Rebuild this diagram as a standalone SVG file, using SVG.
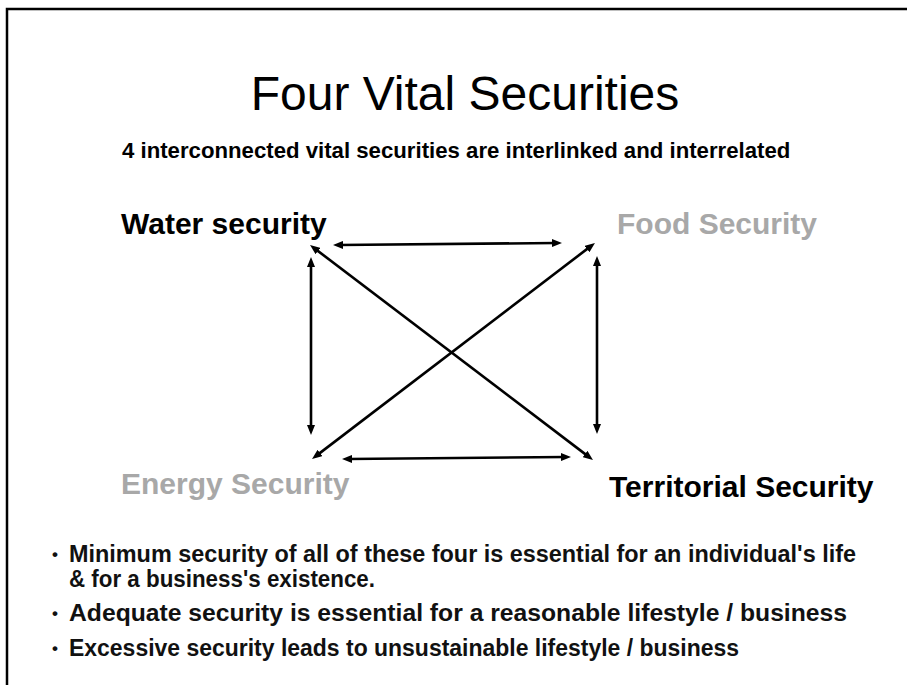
<svg xmlns="http://www.w3.org/2000/svg" width="907" height="685" viewBox="0 0 907 685">
<style>
text{font-family:"Liberation Sans",Arial,sans-serif;}
.b{font-weight:bold;}
.lbl{font-size:30px;font-weight:bold;}
.blk{fill:#000;}
.gry{fill:#a8a8a8;}
.bul{font-size:23px;font-weight:bold;fill:#111;}
.dot{font-size:17px;font-weight:bold;fill:#111;}
.conn{stroke:#000;stroke-width:2.6;fill:none;marker-start:url(#ah);marker-end:url(#ah);}
</style>
<defs>
<marker id="ah" viewBox="0 0 10 8" refX="4" refY="4" markerWidth="10" markerHeight="8" markerUnits="userSpaceOnUse" orient="auto-start-reverse">
<path d="M0,0 L10,4 L0,8 z" fill="#000"/>
</marker>
</defs>
<rect width="907" height="685" fill="#fff"/>
<path d="M7,685 V9 H907" stroke="#000" stroke-width="2.5" fill="none"/>
<g id="title">
<text x="465" y="110" font-size="48" text-anchor="middle">Four Vital Securities</text>
<text x="122" y="158" font-size="22.2" class="b">4 interconnected vital securities are interlinked and interrelated</text>
</g>
<g id="water"><text x="121" y="234" class="lbl blk">Water security</text></g>
<g id="food"><text x="617" y="234" class="lbl gry">Food Security</text></g>
<g id="energy"><text x="121" y="494" class="lbl gry">Energy Security</text></g>
<g id="territorial"><text x="609" y="497" class="lbl blk">Territorial Security</text></g>
<g id="connectors">
<path class="conn" d="M339,245 L556,243"/>
<path class="conn" d="M311,263 L311,429"/>
<path class="conn" d="M597,262 L597,428"/>
<path class="conn" d="M314.8,248.6 L588.2,456.4"/>
<path class="conn" d="M590.2,246.6 L316.8,455.4"/>
<path class="conn" d="M348,459 L565,457"/>
</g>
<g id="notes">
<text x="52" y="560" class="dot">•</text>
<text x="69" y="562" class="bul" textLength="787" lengthAdjust="spacingAndGlyphs">Minimum security of all of these four is essential for an individual's life</text>
<text x="69" y="587" class="bul" textLength="306" lengthAdjust="spacingAndGlyphs">&amp; for a business's existence.</text>
<text x="52" y="619" class="dot">•</text>
<text x="69" y="621" class="bul" textLength="778" lengthAdjust="spacingAndGlyphs">Adequate security is essential for a reasonable lifestyle / business</text>
<text x="52" y="654" class="dot">•</text>
<text x="69" y="656" class="bul" textLength="670" lengthAdjust="spacingAndGlyphs">Excessive security leads to unsustainable lifestyle / business</text>
</g>
</svg>
